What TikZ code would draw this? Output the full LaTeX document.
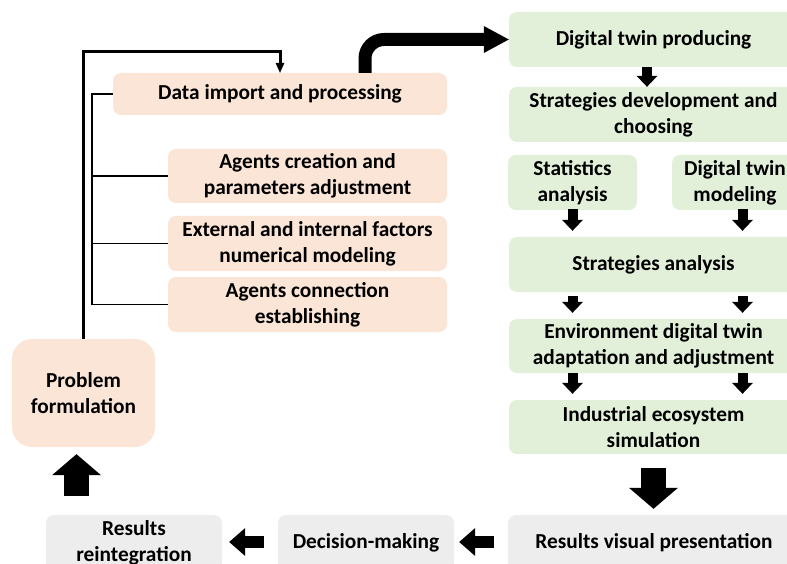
\documentclass[tikz,border=0pt]{standalone}
\usepackage{fontspec}
\setmainfont{Carlito}
\usetikzlibrary{arrows.meta,calc}
\definecolor{peach}{HTML}{FBE5D6}
\definecolor{lgreen}{HTML}{E2F0D9}
\definecolor{lgray}{HTML}{EDEDED}
\begin{document}
\begin{tikzpicture}[x=1pt,y=-1pt,
  box/.style={rectangle, rounded corners=8pt, inner sep=0pt, align=center,
    font=\bfseries\fontsize{21.33}{26}\selectfont},
  pbox/.style={box, fill=peach},
  gbox/.style={box, fill=lgreen},
  ybox/.style={box, fill=lgray},
  blk/.style={line width=10pt, -{Triangle[width=21pt,length=11pt,line width=0pt]}},
  medblk/.style={line width=12pt, -{Triangle[width=28pt,length=16pt,line width=0pt]}},
  bigblk/.style={line width=25pt, -{Triangle[width=49pt,length=21pt,line width=0pt]}},
  bigcurve/.style={line width=13pt, rounded corners=19pt, -{Triangle[width=27pt,length=25pt,line width=0pt]}},
  fb/.style={line width=3pt, -{Triangle[width=9pt,length=10pt,line width=0pt]}},
  brk/.style={line width=1.5pt}
]
\clip (0,0) rectangle (787,564);
% left column
\node[pbox, minimum width=334pt, minimum height=42pt] (data) at (280,94) {Data import and processing};
\node[pbox, minimum width=279pt, minimum height=54pt] (agc) at (307.5,176) {Agents creation and\\parameters adjustment};
\node[pbox, minimum width=279pt, minimum height=55pt] (ext) at (307.5,243.5) {External and internal factors\\numerical modeling};
\node[pbox, minimum width=279pt, minimum height=55pt] (acon) at (307.5,304.5) {Agents connection\\establishing};
\node[pbox, rounded corners=20pt, minimum width=143pt, minimum height=108pt] (prob) at (83.5,393) {Problem\\formulation};
% right column
\node[gbox, minimum width=289pt, minimum height=55pt] (dtp) at (653.5,39.5) {Digital twin producing};
\node[gbox, minimum width=289pt, minimum height=55pt] (sdc) at (653.5,114.5) {Strategies development and\\choosing};
\node[gbox, minimum width=129pt, minimum height=55pt] (stat) at (572.5,182.5) {Statistics\\analysis};
\node[gbox, minimum width=126pt, minimum height=55pt] (dtm) at (735,182.5) {Digital twin\\modeling};
\node[gbox, minimum width=289pt, minimum height=55pt] (sa) at (653.5,264.5) {Strategies analysis};
\node[gbox, minimum width=289pt, minimum height=54pt] (env) at (653.5,346) {Environment digital twin\\adaptation and adjustment};
\node[gbox, minimum width=289pt, minimum height=54pt] (ind) at (653.5,427) {Industrial ecosystem\\simulation};
% bottom row
\node[ybox, minimum width=292pt, minimum height=56pt] (rvp) at (654,543) {Results visual presentation};
\node[ybox, minimum width=176pt, minimum height=56pt] (dm) at (366,543) {Decision-making};
\node[ybox, minimum width=176pt, minimum height=56pt] (rr) at (134,543) {Results\\reintegration};
% helper coordinates
\coordinate (bx) at (92,0);
\coordinate (lx) at (572.5,0);
\coordinate (rx) at (742.5,0);
\coordinate (ux) at (76.5,0);
\coordinate (cx) at (365,0);
% bracket
\draw[brk] (data.west) -- (data.west -| bx) |- (acon.west);
\draw[brk] (agc.west) -- (agc.west -| bx);
\draw[brk] (ext.west) -- (ext.west -| bx);
% feedback
\draw[fb] (prob.north) |- ($(data.north)+(0,-21)$) -- (data.north);
% big curved arrow
\draw[bigcurve] (data.north -| cx) |- (dtp.west);
% block arrows
\draw[blk] ($(dtp.south)+(-6.5,0)$) -- ($(sdc.north)+(-6.5,0)$);
\draw[blk, shorten <=-1pt, shorten >=6pt] (stat.south) -- (sa.north -| lx);
\draw[blk, shorten <=-1pt, shorten >=6pt] (dtm.south -| rx) -- (sa.north -| rx);
\draw[blk, shorten <=4pt, shorten >=6pt] (sa.south -| lx) -- (env.north -| lx);
\draw[blk, shorten <=4pt, shorten >=6pt] (sa.south -| rx) -- (env.north -| rx);
\draw[blk, shorten >=6pt] (env.south -| lx) -- (ind.north -| lx);
\draw[blk, shorten >=6pt] (env.south -| rx) -- (ind.north -| rx);
\draw[bigblk, shorten <=14pt, shorten >=6pt] (ind.south) -- (rvp.north -| ind.south);
\draw[medblk, shorten <=14pt, shorten >=5pt] ($(rvp.west)+(0,-1)$) -- ($(dm.east)+(0,-1)$);
\draw[medblk, shorten <=14pt, shorten >=7pt] ($(dm.west)+(0,-1)$) -- ($(rr.east)+(0,-1)$);
\draw[bigblk, shorten <=19pt, shorten >=7pt] (rr.north -| ux) -- (prob.south -| ux);
\end{tikzpicture}
\end{document}
